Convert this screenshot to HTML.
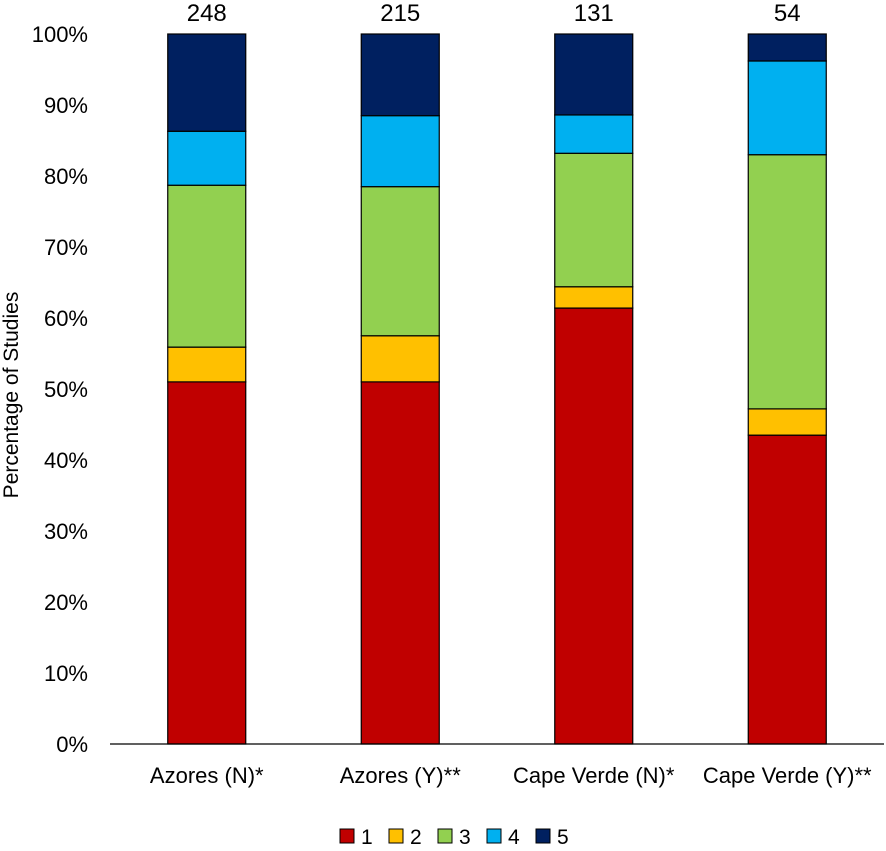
<!DOCTYPE html>
<html><head><meta charset="utf-8"><style>
body{margin:0;background:#fff;width:886px;height:846px;overflow:hidden}
svg text{font-family:"Liberation Sans",sans-serif;fill:#000}
</style></head><body>
<svg id="chart" width="886" height="846" xmlns="http://www.w3.org/2000/svg"></svg>
<script>
const categories=["Azores (N)*","Azores (Y)**","Cape Verde (N)*","Cape Verde (Y)**"];
const totals=[248,215,131,54];
const s1=[51.0,51.0,61.4,43.5];
const s2=[4.9,6.5,3.0,3.7];
const s3=[22.8,21.0,18.8,35.8];
const s4=[7.6,10.0,5.4,13.2];
const s5=[13.7,11.5,11.4,3.8];
const seriesNames=["1","2","3","4","5"];
const yTicks=[0,10,20,30,40,50,60,70,80,90,100];
const series=[s1,s2,s3,s4,s5];
const colors=["#c00000","#ffc000","#92d050","#00b0f0","#002060"];
const svg=document.getElementById('chart');
const NS="http://www.w3.org/2000/svg";
const x0=110,x1=884,y0=744,y1=34;
const band=(x1-x0)/categories.length, bw=78;
const yS=v=>y0-(v/100)*(y0-y1);
const xC=i=>x0+band*(i+0.5);
function mk(t,a,txt){const e=document.createElementNS(NS,t);for(const k in a)e.setAttribute(k,a[k]);if(txt!==undefined)e.textContent=txt;svg.appendChild(e);return e;}
yTicks.forEach(v=>{
 const t=mk('text',{x:88,y:yS(v)+8,'text-anchor':'end','font-size':22},v+'%');
 
 
});
const yt=mk('text',{x:0,y:0,'font-size':21,'text-anchor':'middle',transform:'translate(18,395) rotate(-90)'},'Percentage of Studies');


categories.forEach((c,i)=>{
 let acc=0;
 series.forEach((s,j)=>{
  const r=mk('rect',{x:xC(i)-bw/2,y:yS(acc+s[i]),width:bw,height:yS(acc)-yS(acc+s[i]),fill:colors[j],stroke:'#000','stroke-width':1.2});
  
  
  acc+=s[i];
 });
 const lt=mk('text',{x:xC(i),y:21,'text-anchor':'middle','font-size':24},totals[i]);
 
 
 const cl=mk('text',{x:xC(i),y:783,'text-anchor':'middle','font-size':22},c);
 
 
});
const ax=mk('line',{x1:x0,x2:x1,y1:y0,y2:y0,stroke:'#000','stroke-width':1.3});


seriesNames.forEach((n,j)=>{
 const lx=340+j*49;
 const sq=mk('rect',{x:lx,y:829,width:14,height:14,fill:colors[j],stroke:'#000','stroke-width':1});
 
 
 const lt=mk('text',{x:lx+21,y:844,'font-size':21},n);
 
 
});
</script>
</body></html>
